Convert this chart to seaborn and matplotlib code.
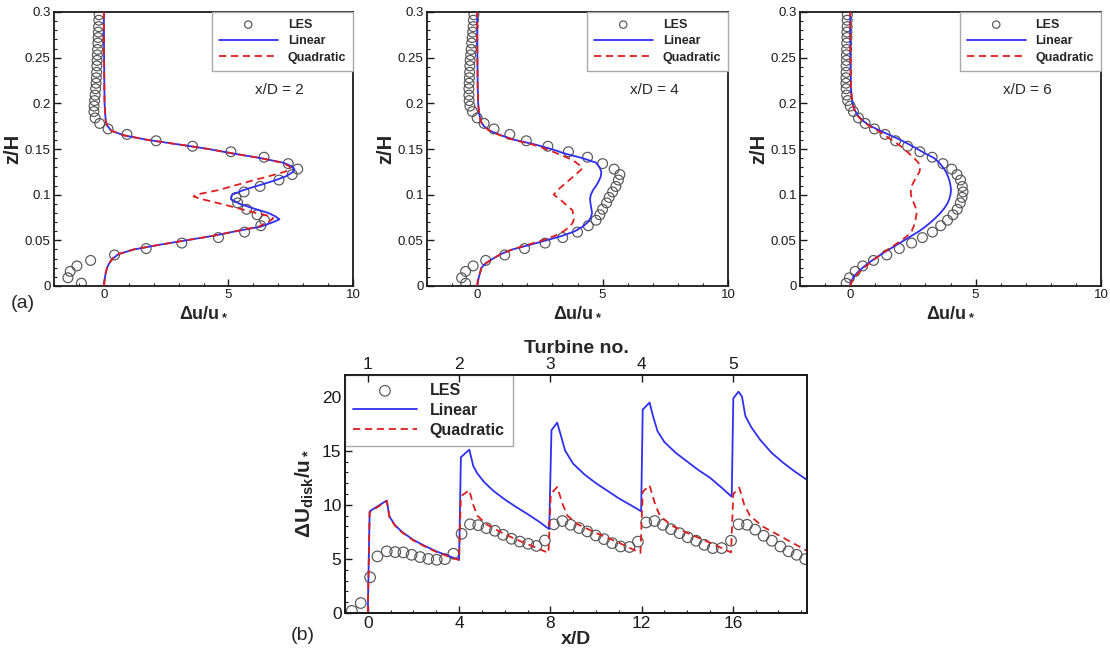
import matplotlib
matplotlib.use("Agg")
import matplotlib.pyplot as plt
import seaborn as sns
from matplotlib.ticker import MultipleLocator, FuncFormatter

# ---------------- data : vertical profiles (panel a) ----------------
z_les = [0.003, 0.009, 0.016, 0.022, 0.028, 0.034, 0.041, 0.047, 0.053, 0.059,
         0.066, 0.072, 0.078, 0.084, 0.091, 0.097, 0.103, 0.109, 0.116, 0.122,
         0.128, 0.134, 0.141, 0.147, 0.153, 0.159, 0.166, 0.172, 0.178, 0.184,
         0.191, 0.197, 0.203, 0.209, 0.216, 0.222, 0.228, 0.234, 0.241, 0.247,
         0.253, 0.259, 0.266, 0.272, 0.278, 0.284, 0.291, 0.297]

les_x2 = [-0.9, -1.44, -1.35, -1.08, -0.53, 0.43, 1.7, 3.13, 4.6, 5.65,
          6.3, 6.45, 6.15, 5.73, 5.37, 5.3, 5.63, 6.27, 7.03, 7.56,
          7.78, 7.4, 6.43, 5.1, 3.56, 2.1, 0.93, 0.17, -0.17, -0.35,
          -0.4, -0.39, -0.37, -0.35, -0.33, -0.31, -0.3, -0.29, -0.28, -0.27,
          -0.26, -0.25, -0.24, -0.23, -0.22, -0.21, -0.2, -0.19]
les_x4 = [-0.46, -0.62, -0.46, -0.16, 0.34, 1.1, 1.89, 2.71, 3.41, 4.0,
          4.43, 4.74, 4.89, 5.0, 5.16, 5.26, 5.4, 5.53, 5.63, 5.69,
          5.46, 5.0, 4.4, 3.64, 2.82, 1.96, 1.3, 0.67, 0.28, 0.0,
          -0.19, -0.29, -0.32, -0.33, -0.33, -0.32, -0.31, -0.3, -0.29, -0.28,
          -0.26, -0.24, -0.22, -0.2, -0.18, -0.16, -0.15, -0.13]
les_x6 = [-0.16, -0.03, 0.2, 0.5, 0.93, 1.46, 1.96, 2.45, 2.88, 3.28,
          3.61, 3.88, 4.1, 4.27, 4.39, 4.46, 4.5, 4.47, 4.4, 4.26,
          4.05, 3.7, 3.27, 2.78, 2.29, 1.81, 1.39, 0.97, 0.6, 0.33,
          0.13, 0.0, -0.1, -0.14, -0.16, -0.17, -0.17, -0.16, -0.16, -0.15,
          -0.15, -0.14, -0.14, -0.13, -0.13, -0.12, -0.12, -0.11]

lin2_z = [0, 0.005, 0.01, 0.015, 0.02, 0.025, 0.03, 0.035, 0.04, 0.045,
          0.05, 0.055, 0.06, 0.065, 0.07, 0.073, 0.076, 0.08, 0.085, 0.09,
          0.095, 0.1, 0.105, 0.11, 0.115, 0.12, 0.125, 0.128, 0.131, 0.135,
          0.14, 0.145, 0.15, 0.155, 0.16, 0.165, 0.17, 0.175, 0.18, 0.19,
          0.2, 0.22, 0.25, 0.3]
lin2_x = [0, 0.02, 0.05, 0.08, 0.13, 0.22, 0.35, 0.6, 1.2, 2.2,
          3.3, 4.4, 5.3, 6.3, 6.8, 7.05, 6.9, 6.6, 6.0, 5.45,
          5.1, 5.15, 5.6, 6.2, 6.8, 7.3, 7.6, 7.65, 7.55, 7.2,
          6.3, 5.2, 4.2, 3.0, 1.75, 0.8, 0.3, 0.15, 0.08, 0.05,
          0.03, 0.02, 0.01, 0.0]
quad2_z = [0, 0.005, 0.01, 0.015, 0.02, 0.025, 0.03, 0.035, 0.04, 0.045,
           0.05, 0.055, 0.06, 0.065, 0.07, 0.074, 0.077, 0.08, 0.085, 0.09,
           0.095, 0.098, 0.1, 0.105, 0.11, 0.115, 0.12, 0.125, 0.128, 0.131,
           0.135, 0.14, 0.145, 0.15, 0.155, 0.16, 0.165, 0.17, 0.175, 0.18,
           0.19, 0.2, 0.22, 0.25, 0.3]
quad2_x = [0, 0.02, 0.05, 0.08, 0.13, 0.22, 0.35, 0.6, 1.2, 2.2,
           3.3, 4.4, 5.3, 6.2, 6.6, 6.8, 6.6, 6.1, 5.4, 4.7,
           3.95, 3.6, 3.7, 4.6, 5.25, 5.9, 6.6, 7.25, 7.5, 7.45,
           7.15, 6.3, 5.2, 4.2, 3.0, 1.75, 0.8, 0.3, 0.15, 0.08,
           0.05, 0.03, 0.02, 0.01, 0.0]

lin4_z = [0, 0.005, 0.01, 0.015, 0.02, 0.025, 0.03, 0.035, 0.04, 0.045,
          0.05, 0.055, 0.06, 0.065, 0.07, 0.075, 0.08, 0.085, 0.09, 0.095,
          0.1, 0.105, 0.11, 0.115, 0.12, 0.125, 0.13, 0.135, 0.14, 0.145,
          0.15, 0.155, 0.16, 0.165, 0.17, 0.175, 0.18, 0.19, 0.2, 0.22,
          0.25, 0.3]
lin4_x = [0, 0.03, 0.07, 0.12, 0.17, 0.35, 0.63, 0.95, 1.4, 2.1,
          2.75, 3.4, 3.9, 4.2, 4.42, 4.53, 4.58, 4.55, 4.52, 4.5,
          4.53, 4.62, 4.75, 4.85, 4.93, 4.95, 4.88, 4.74, 4.2, 3.5,
          2.95, 2.3, 1.5, 0.95, 0.5, 0.27, 0.15, 0.07, 0.04, 0.02,
          0.01, 0.0]
quad4_z = [0, 0.005, 0.01, 0.015, 0.02, 0.025, 0.03, 0.035, 0.04, 0.045,
           0.05, 0.055, 0.06, 0.065, 0.07, 0.073, 0.078, 0.083, 0.09, 0.095,
           0.1, 0.105, 0.11, 0.115, 0.12, 0.125, 0.129, 0.133, 0.138, 0.145,
           0.15, 0.155, 0.16, 0.165, 0.17, 0.175, 0.18, 0.19, 0.2, 0.22,
           0.25, 0.3]
quad4_x = [0, 0.03, 0.07, 0.12, 0.17, 0.35, 0.63, 0.95, 1.4, 2.0,
           2.6, 3.1, 3.45, 3.7, 3.82, 3.85, 3.83, 3.8, 3.5, 3.3,
           3.05, 3.2, 3.42, 3.63, 3.84, 4.05, 4.2, 4.05, 3.8, 3.2,
           2.75, 2.2, 1.45, 0.92, 0.48, 0.26, 0.14, 0.07, 0.04, 0.02,
           0.01, 0.0]

lin6_z = [0, 0.005, 0.01, 0.015, 0.02, 0.025, 0.03, 0.035, 0.04, 0.045,
          0.05, 0.055, 0.06, 0.065, 0.07, 0.075, 0.08, 0.085, 0.09, 0.095,
          0.1, 0.105, 0.11, 0.115, 0.12, 0.125, 0.13, 0.135, 0.14, 0.145,
          0.15, 0.155, 0.16, 0.165, 0.17, 0.175, 0.18, 0.185, 0.19, 0.195,
          0.2, 0.21, 0.22, 0.25, 0.3]
lin6_x = [0, 0.05, 0.13, 0.3, 0.5, 0.72, 0.98, 1.25, 1.55, 1.85,
          2.15, 2.45, 2.75, 3.0, 3.22, 3.42, 3.6, 3.75, 3.87, 3.95,
          4.0, 4.02, 4.0, 3.96, 3.9, 3.82, 3.7, 3.55, 3.35, 3.0,
          2.68, 2.35, 2.0, 1.6, 1.2, 0.82, 0.55, 0.36, 0.23, 0.15,
          0.1, 0.05, 0.03, 0.01, 0.0]
quad6_z = [0, 0.005, 0.01, 0.015, 0.02, 0.025, 0.03, 0.035, 0.04, 0.045,
           0.05, 0.055, 0.06, 0.065, 0.07, 0.075, 0.08, 0.085, 0.09, 0.095,
           0.1, 0.105, 0.11, 0.115, 0.12, 0.125, 0.13, 0.135, 0.14, 0.145,
           0.15, 0.155, 0.16, 0.165, 0.17, 0.175, 0.18, 0.185, 0.19, 0.195,
           0.2, 0.21, 0.22, 0.25, 0.3]
quad6_x = [0, 0.07, 0.18, 0.35, 0.55, 0.78, 1.0, 1.25, 1.5, 1.78,
           2.05, 2.28, 2.45, 2.53, 2.58, 2.62, 2.65, 2.62, 2.55, 2.47,
           2.42, 2.42, 2.46, 2.55, 2.66, 2.76, 2.8, 2.72, 2.55, 2.35,
           2.15, 1.92, 1.65, 1.38, 1.1, 0.78, 0.52, 0.34, 0.22, 0.14,
           0.09, 0.05, 0.03, 0.01, 0.0]

station_labels = ["x/D = 2", "x/D = 4", "x/D = 6"]

# ---------------- data : disk-averaged deficit (panel b) ----------------
les_xd = [-0.7, -0.31, 0.1, 0.42, 0.83, 1.2, 1.56, 1.92, 2.29, 2.65,
          3.02, 3.38, 3.75, 4.11, 4.48, 4.84, 5.2, 5.57, 5.93, 6.3,
          6.66, 7.03, 7.39, 7.76, 8.15, 8.53, 8.89, 9.26, 9.62, 9.99,
          10.35, 10.71, 11.08, 11.47, 11.84, 12.2, 12.57, 12.93, 13.29, 13.66,
          14.02, 14.39, 14.75, 15.12, 15.51, 15.92, 16.25, 16.62, 16.98, 17.35,
          17.71, 18.08, 18.44, 18.8, 19.17]
les_du = [0.2, 0.92, 3.3, 5.23, 5.7, 5.63, 5.6, 5.38, 5.17, 5.0,
          4.92, 4.98, 5.48, 7.32, 8.2, 8.12, 7.85, 7.6, 7.23, 6.86,
          6.6, 6.4, 6.2, 6.7, 8.2, 8.5, 8.15, 7.85, 7.54, 7.17,
          6.83, 6.46, 6.15, 6.1, 6.6, 8.37, 8.5, 8.15, 7.75, 7.38,
          7.0, 6.68, 6.3, 6.0, 6.0, 6.68, 8.2, 8.15, 7.7, 7.14,
          6.68, 6.15, 5.7, 5.38, 4.98]

lin_xd = [0.0, 0.08, 0.83, 0.95, 1.2, 1.5, 2.0, 2.5, 3.0, 3.5, 4.0,
          4.08, 4.45, 4.62, 4.8, 5.1, 5.5, 6.0, 6.5, 7.0, 7.5, 7.95,
          8.05, 8.3, 8.45, 8.65, 9.0, 9.5, 10.0, 10.5, 11.0, 11.5, 11.98,
          12.05, 12.35, 12.5, 12.7, 13.0, 13.5, 14.0, 14.5, 15.0, 15.5, 15.95,
          16.02, 16.25, 16.4, 16.55, 16.8, 17.2, 17.7, 18.2, 18.7, 19.25]
lin_du = [0.0, 9.4, 10.4, 8.9, 8.1, 7.5, 6.75, 6.2, 5.7, 5.3, 4.92,
          14.4, 15.1, 13.6, 12.9, 12.1, 11.3, 10.5, 9.8, 9.15, 8.45, 7.75,
          16.9, 17.6, 16.5, 15.0, 13.8, 12.8, 12.0, 11.3, 10.6, 10.0, 9.4,
          18.8, 19.45, 18.2, 16.8, 15.8, 14.8, 14.0, 13.2, 12.5, 11.6, 10.75,
          19.85, 20.46, 20.0, 18.2, 17.2, 16.0, 14.8, 13.9, 13.1, 12.3]

quad_xd = [0.0, 0.08, 0.83, 0.95, 1.2, 1.5, 2.0, 2.5, 3.0, 3.5, 4.0,
           4.08, 4.45, 4.62, 4.8, 5.2, 5.8, 6.5, 7.2, 7.92,
           8.02, 8.3, 8.55, 8.75, 9.2, 10.0, 11.0, 11.95,
           12.05, 12.35, 12.6, 12.8, 13.3, 14.0, 15.0, 15.92,
           16.02, 16.28, 16.5, 16.75, 17.3, 18.0, 18.6, 19.25]
quad_du = [0.0, 9.3, 10.35, 8.85, 8.05, 7.45, 6.7, 6.15, 5.65, 5.25, 4.9,
           10.8, 11.35, 10.0, 9.0, 8.2, 7.5, 6.8, 6.2, 5.55,
           11.0, 11.65, 10.0, 9.0, 8.2, 7.4, 6.5, 5.55,
           11.2, 11.8, 10.0, 9.0, 8.1, 7.4, 6.5, 5.6,
           11.0, 11.6, 10.0, 9.0, 8.0, 7.2, 6.5, 5.75]

turbine_xd = [0, 4, 8, 12, 16]
turbine_no = ["1", "2", "3", "4", "5"]

# ---------------- style ----------------
sns.set_style("ticks")
plt.rcParams["font.family"] = ["Liberation Sans", "DejaVu Sans"]
plt.rcParams["mathtext.fontset"] = "custom"
plt.rcParams["mathtext.rm"] = "Liberation Sans"
plt.rcParams["mathtext.bf"] = "Liberation Sans:bold"
plt.rcParams["mathtext.it"] = "Liberation Sans:italic"

C_LES = "#555555"
C_LIN = "#2f2ff2"
C_QUAD = "#dc1e1e"
DASH = (0, (4.0, 2.6))

W, H = 1110, 654


def pos(l, t, r, b):
    return [l / W, 1 - b / H, (r - l) / W, (b - t) / H]


def style_axes(ax, fs):
    for s in ax.spines.values():
        s.set_visible(True)
        s.set_color("#1a1a1a")
        s.set_linewidth(1.3)
    ax.tick_params(which="both", direction="in", top=False, right=False,
                   labelsize=fs, colors="#1a1a1a", pad=2.5)
    ax.tick_params(which="major", length=5, width=1.0)
    ax.tick_params(which="minor", length=2.5, width=0.8)


fig = plt.figure(figsize=(W / 100, H / 100), dpi=100)

top_boxes = [(54, 12, 353, 286), (427, 12, 728, 286), (800, 12, 1101, 286)]
panels = [
    (les_x2, lin2_z, lin2_x, quad2_z, quad2_x),
    (les_x4, lin4_z, lin4_x, quad4_z, quad4_x),
    (les_x6, lin6_z, lin6_x, quad6_z, quad6_x),
]

for box, (lx, lz, linx, qz, qx), lab in zip(top_boxes, panels, station_labels):
    ax = fig.add_axes(pos(*box))
    sns.scatterplot(x=lx, y=z_les, ax=ax, marker="o", s=50, facecolor="none",
                    edgecolor=C_LES, linewidth=0.85, label="LES", zorder=2)
    sns.lineplot(x=linx, y=lz, ax=ax, sort=False, estimator=None, color=C_LIN,
                 linewidth=1.3, label="Linear", zorder=3)
    sns.lineplot(x=qx, y=qz, ax=ax, sort=False, estimator=None, color=C_QUAD,
                 linewidth=1.3, linestyle=DASH, label="Quadratic", zorder=4)
    ax.set_xlim(-2, 10)
    ax.set_ylim(0, 0.3)
    ax.xaxis.set_major_locator(MultipleLocator(5))
    ax.xaxis.set_minor_locator(MultipleLocator(1))
    ax.yaxis.set_major_locator(MultipleLocator(0.05))
    ax.yaxis.set_minor_locator(MultipleLocator(0.01))
    ax.yaxis.set_major_formatter(FuncFormatter(lambda v, p: f"{v:g}"))
    style_axes(ax, 9.5)
    ax.set_xlabel(r"$\mathbf{\Delta u/u_*}$", fontsize=13, labelpad=1)
    ax.set_ylabel("z/H", fontsize=14.5, fontweight="bold", labelpad=2)
    ax.text(7.05, 0.215, lab, fontsize=11, ha="center", va="center")
    leg = ax.legend(loc="upper right", borderaxespad=0, frameon=True, fancybox=False,
                    edgecolor="#a8a8a8", framealpha=1,
                    prop={"weight": "bold", "size": 9}, handlelength=4.7,
                    handletextpad=0.8, labelspacing=0.35, borderpad=0.55,
                    markerscale=0.75)
    leg.get_frame().set_linewidth(1.0)

fig.text(23 / W, 1 - 303 / H, "(a)", fontsize=14, ha="center", va="center")

# ---------------- panel b ----------------
axb = fig.add_axes(pos(345, 375, 807, 613))
sns.scatterplot(x=les_xd, y=les_du, ax=axb, marker="o", s=58, facecolor="none",
                edgecolor=C_LES, linewidth=0.85, label="LES", zorder=2)
sns.lineplot(x=lin_xd, y=lin_du, ax=axb, sort=False, estimator=None, color=C_LIN,
             linewidth=1.3, label="Linear", zorder=3)
sns.lineplot(x=quad_xd, y=quad_du, ax=axb, sort=False, estimator=None, color=C_QUAD,
             linewidth=1.3, linestyle=DASH, label="Quadratic", zorder=4)
axb.set_xlim(-1, 19.25)
axb.set_ylim(0, 22)
axb.xaxis.set_major_locator(MultipleLocator(4))
axb.xaxis.set_minor_locator(MultipleLocator(1))
axb.yaxis.set_major_locator(MultipleLocator(5))
axb.yaxis.set_minor_locator(MultipleLocator(1))
style_axes(axb, 12.5)
axb.set_xlabel("x/D", fontsize=14, fontweight="bold", labelpad=0)
axb.set_ylabel(r"$\mathbf{\Delta U_{disk}/u_*}$", fontsize=15, labelpad=4)
legb = axb.legend(loc="upper left", borderaxespad=0, frameon=True, fancybox=False,
                  edgecolor="#a8a8a8", framealpha=1,
                  prop={"weight": "bold", "size": 11.5}, handlelength=4.0,
                  handletextpad=0.8, labelspacing=0.3, borderpad=0.5)
legb.get_frame().set_linewidth(1.0)

axt = axb.twiny()
axt.set_xlim(axb.get_xlim())
axt.set_xticks(turbine_xd)
axt.set_xticklabels(turbine_no)
axt.tick_params(which="both", direction="in", length=5, width=1.0,
                labelsize=12.5, pad=2, colors="#1a1a1a")
axt.xaxis.set_minor_locator(plt.NullLocator())
axt.set_xlabel("Turbine no.", fontsize=14, fontweight="bold", labelpad=3)
for s in axt.spines.values():
    s.set_color("#1a1a1a")
    s.set_linewidth(1.3)

fig.text(303 / W, 1 - 635 / H, "(b)", fontsize=14, ha="center", va="center")

fig.savefig("out.png", dpi=100)
